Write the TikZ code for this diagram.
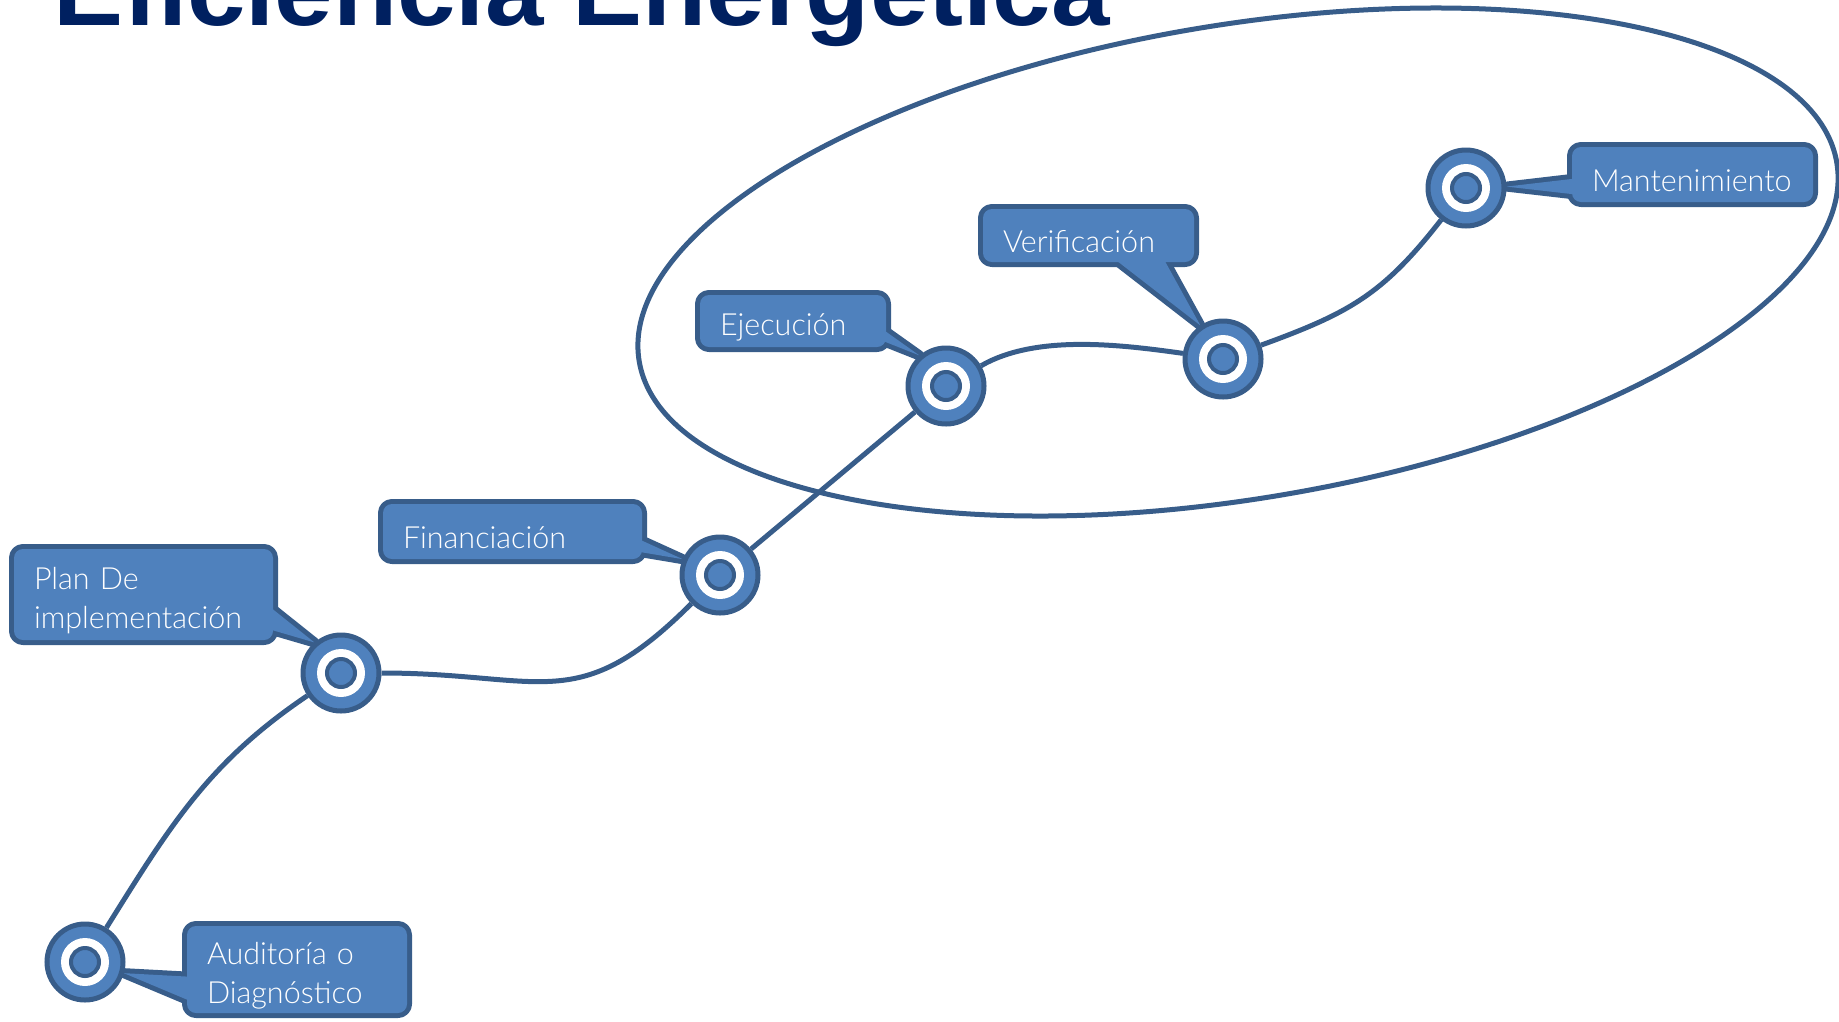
\documentclass[tikz,border=0pt]{standalone}
\usepackage{fontspec}
\setmainfont{Lato}[UprightFont={* Light}]
\newfontfamily\titlefont{Liberation Sans}
\usetikzlibrary{calc,backgrounds}
\definecolor{boxblue}{RGB}{79,129,189}
\definecolor{lineblue}{RGB}{56,93,138}
\definecolor{titleblue}{RGB}{0,32,96}

% fixed line height for the label texts
\newcommand{\lblstrut}{\rule[-2pt]{0pt}{37pt}}

% pointers of the callouts, drawn once as outline and once as fill
\newcommand{\pointers}[1]{%
\path[#1] ($(auditlbl.south west)+(8,36)$) -- (audit.-16) -- ($(auditlbl.south west)+(8,10)$) -- cycle;
\path[#1] ($(planlbl.south east)+(-8,37)$) -- (plan.131) -- ($(planlbl.south east)+(-8,12)$) -- cycle;
\path[#1] ($(finlbl.south east)+(-8,22)$) -- (fin.157) -- ($(finlbl.south east)+(-8,8)$) -- cycle;
\path[#1] ($(ejelbl.south east)+(-8,21)$) -- (eje.131) -- ($(ejelbl.south east)+(-8,8)$) -- cycle;
\path[#1] ($(verlbl.south west)+(125,8)$) -- (ver.124) -- ($(verlbl.south west)+(178,8)$) -- cycle;
\path[#1] ($(mantlbl.south west)+(8,24)$) -- (mant.2) -- ($(mantlbl.south west)+(8,7)$) -- cycle;}

\begin{document}
\begin{tikzpicture}[x=1pt,y=1pt]

\tikzset{bluenode/.style={shape=circle,fill=boxblue,draw=lineblue,line width=5,minimum size=76,inner sep=0pt,
  path picture={\fill[white] (path picture bounding box.center) circle (24);
    \filldraw[fill=boxblue,draw=lineblue,line width=4] (path picture bounding box.center) circle (14);}},
labelnode/.style={anchor=west,text=white,align=left,inner xsep=20,inner ysep=0,outer sep=0,font=\fontsize{30.5}{39}\selectfont},
calloutline/.style={draw=lineblue,line width=10,rounded corners=9,line join=round},
calloutfill/.style={fill=boxblue,rounded corners=9},
trail/.style={draw=lineblue,line width=5}}

\useasboundingbox (0,0) rectangle (1839,-1021);

% Title
\node[anchor=base west,text=titleblue,inner sep=0] (title) at (53,-25) {\scalebox{1.05}[1]{\titlefont\bfseries\fontsize{100}{100}\selectfont Eficiencia Energética}};

% stage nodes
\node (audit) [bluenode] at (85,-962) {};
\node (plan) [bluenode] at (341,-673) {};
\node (fin) [bluenode] at (720,-575) {};
\node (eje) [bluenode] at (946,-386) {};
\node (ver) [bluenode] at (1223,-359) {};
\node (mant) [bluenode] at (1466,-188) {};

% Edges
\draw[trail] (audit) to[out=58,in=214] (plan);
\draw[trail] (plan) to[out=0,in=225,looseness=1.3] (fin);
\draw[trail] (fin) -- (eje);
\draw[trail] (eje) to[out=30,in=172,looseness=0.8] (ver);
\draw[trail] (ver) to[out=20,in=232,looseness=1.1] (mant);

% Ellipse round the last three stages
\draw[trail] (1238,-262) circle [x radius=607,y radius=237,rotate=9.4];

% labels
\node[labelnode,text width=180,minimum height=87] (auditlbl) at (187,-969.5) {\lblstrut Auditoría o\\\lblstrut Diagnóstico};
\node[labelnode,text width=219,minimum height=91] (planlbl) at (14,-594.5) {\lblstrut Plan De\\\lblstrut implementación};
\node[labelnode,text width=219,minimum height=55] (finlbl) at (383,-531.5) {\lblstrut Financiación};
\node[labelnode,text width=146,minimum height=52] (ejelbl) at (700,-321) {\lblstrut Ejecución};
\node[labelnode,text width=171,minimum height=53] (verlbl) at (983,-235.5) {\lblstrut Verificación};
\node[labelnode,text width=201,minimum height=55] (mantlbl) at (1572,-174.5) {\lblstrut Mantenimiento};

% Callouts
\begin{scope}[on background layer]
\foreach \b in {auditlbl,planlbl,finlbl,ejelbl,verlbl,mantlbl} \draw[calloutline] (\b.north west) rectangle (\b.south east);
\pointers{calloutline,sharp corners}
\foreach \b in {auditlbl,planlbl,finlbl,ejelbl,verlbl,mantlbl} \fill[calloutfill] (\b.north west) rectangle (\b.south east);
\pointers{calloutfill,sharp corners}
\end{scope}

\end{tikzpicture}
\end{document}
